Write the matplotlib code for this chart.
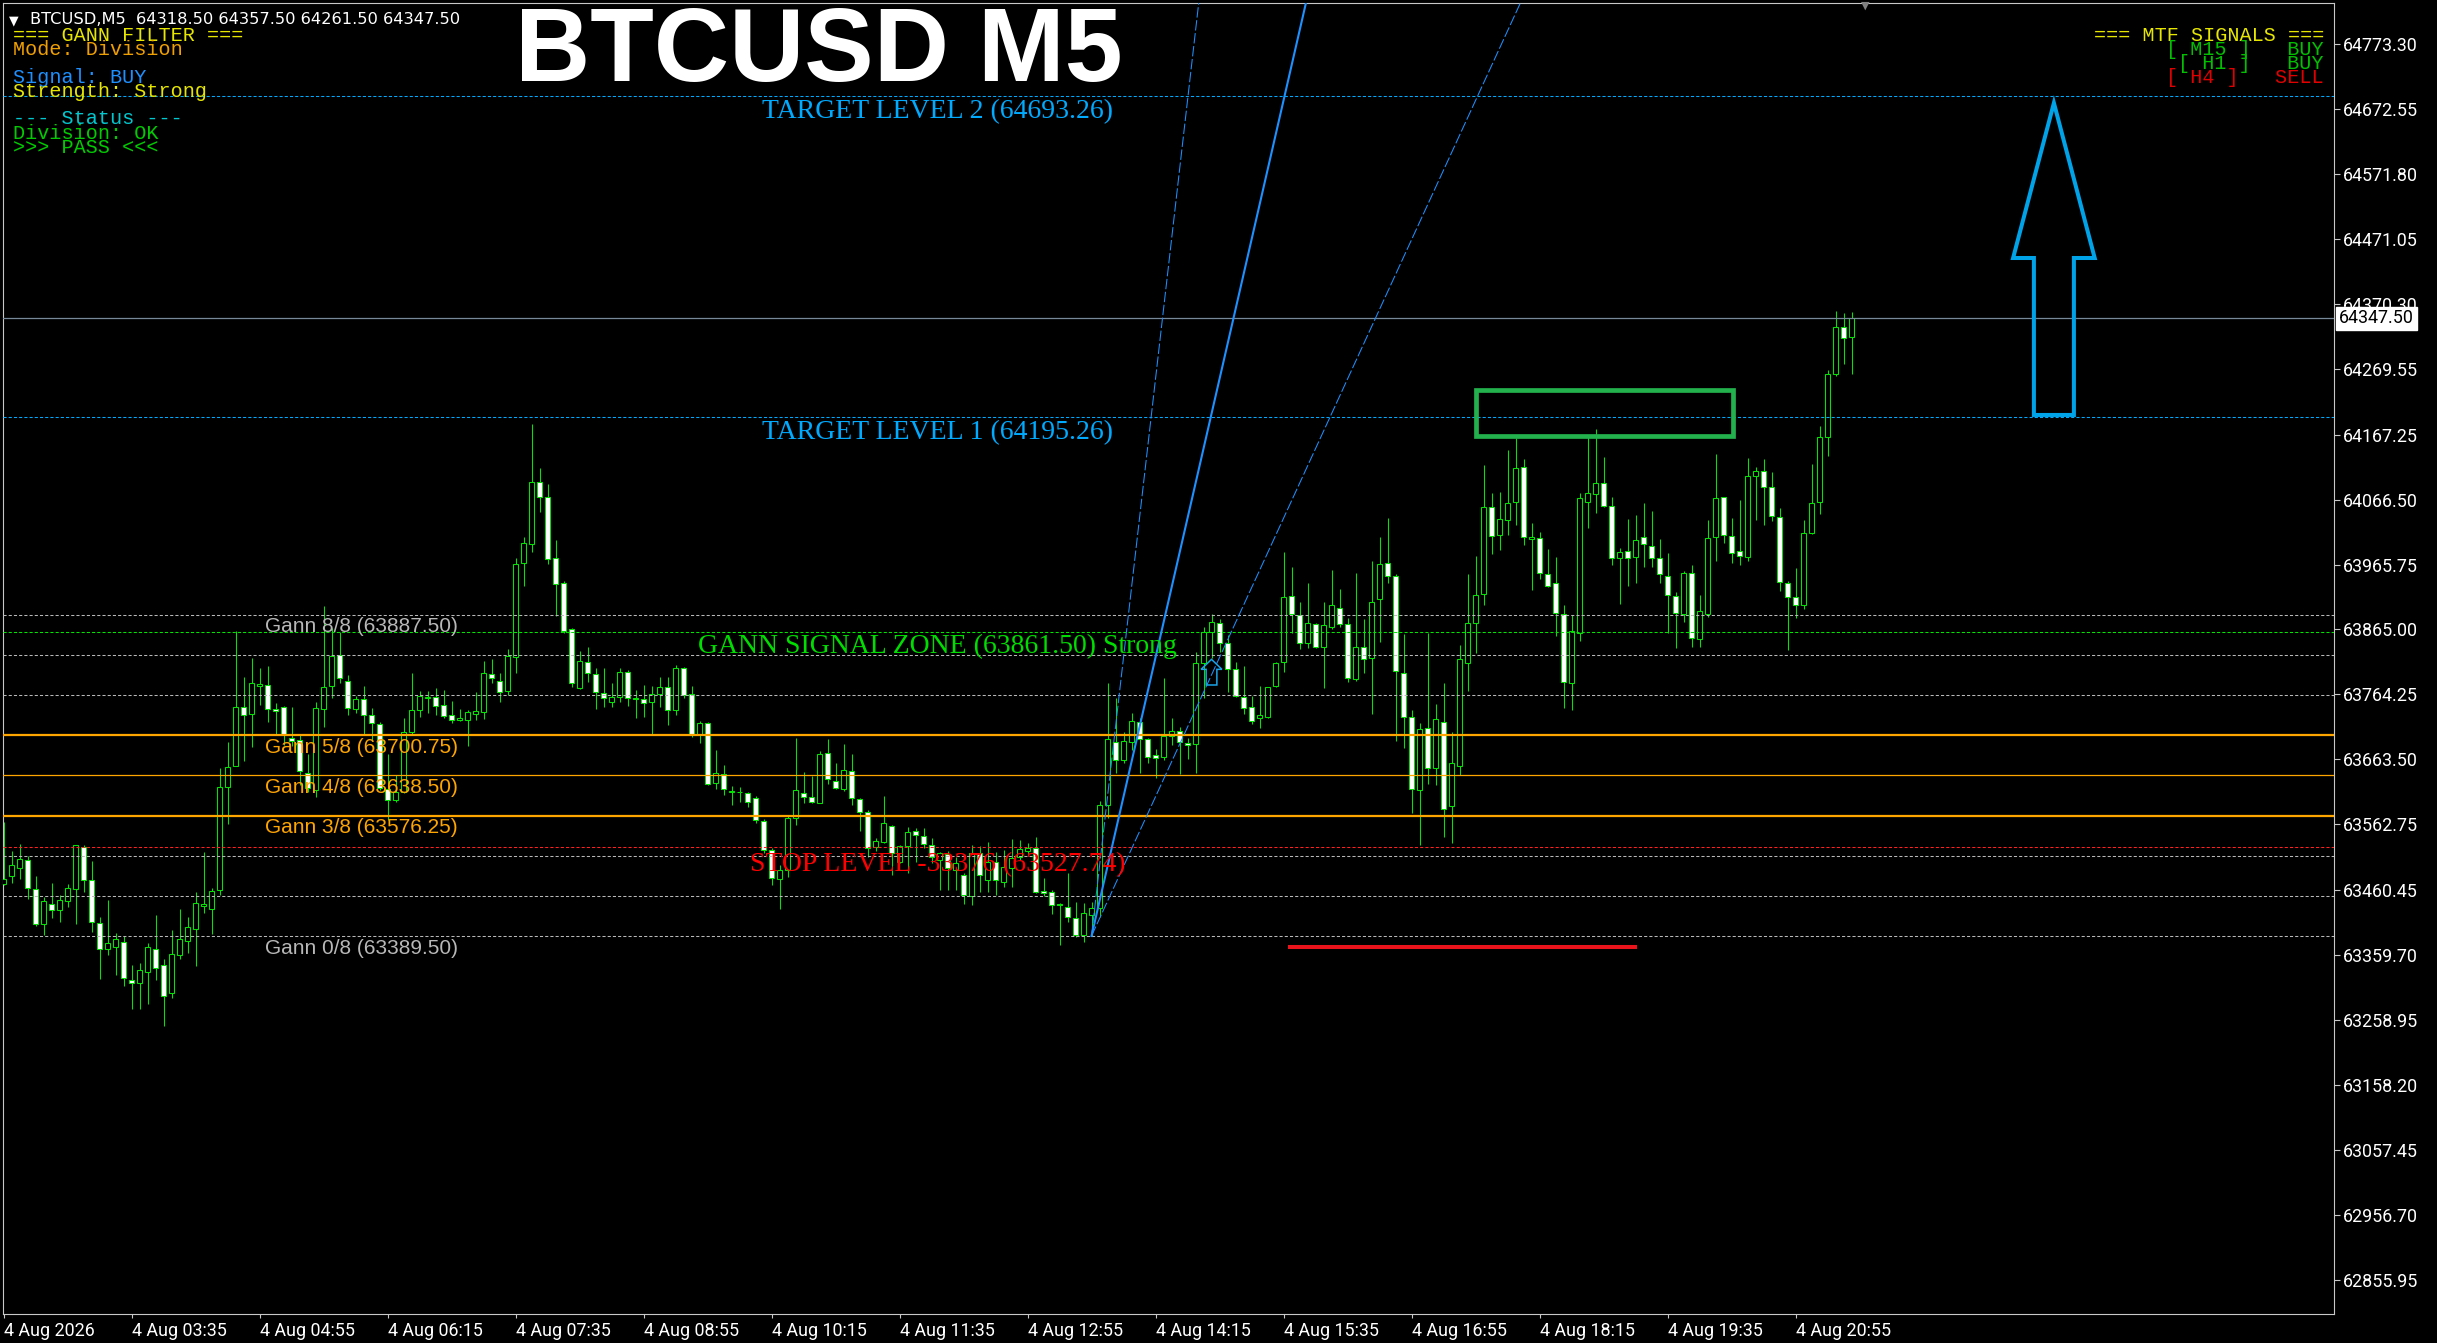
import matplotlib
matplotlib.use("Agg")
import matplotlib.pyplot as plt
from matplotlib.patches import Polygon, Rectangle
import numpy as np

W, H = 2437, 1343

# ---- candle data (5 minute bars) ----
opens = [63470.4, 63482.9, 63495.3, 63507.8, 63463.0, 63408.2, 63439.3, 63430.0, 63444.3, 63463.0,
         63527.7, 63476.6, 63409.4, 63369.6, 63372.7, 63380.2, 63321.6, 63316.7, 63334.1, 63369.6,
         63344.7, 63301.1, 63360.2, 63382.0, 63400.7, 63436.8, 63431.8, 63461.1, 63620.4, 63652.8,
         63744.3, 63733.7, 63776.7, 63778.6, 63741.2, 63744.3, 63696.4, 63693.3, 63642.2, 63615.5,
         63741.8, 63777.3, 63825.3, 63785.4, 63741.8, 63756.8, 63733.1, 63718.2, 63617.3, 63601.2,
         63613.6, 63705.7, 63740.0, 63759.3, 63760.5, 63747.4, 63731.9, 63724.4, 63724.4, 63733.7,
         63737.5, 63796.0, 63785.6, 63770.1, 63821.8, 63967.6, 63997.1, 64094.3, 64070.0, 63975.4,
         63936.6, 63865.3, 63773.7, 63814.1, 63795.5, 63767.0, 63753.0, 63759.8, 63799.6, 63756.7,
         63756.7, 63752.0, 63764.4, 63775.3, 63740.1, 63805.8, 63764.9, 63702.9, 63720.5, 63626.4,
         63640.8, 63612.9, 63612.4, 63610.8, 63603.1, 63568.4, 63523.0, 63477.4, 63491.9, 63572.1,
         63611.9, 63604.6, 63596.4, 63672.9, 63630.0, 63617.0, 63646.0, 63601.5, 63582.4, 63527.1,
         63535.9, 63560.2, 63504.8, 63529.1, 63552.9, 63544.7, 63530.7, 63507.4, 63516.7, 63491.9,
         63484.1, 63451.6, 63517.8, 63476.4, 63504.9, 63473.8, 63494.5, 63511.6, 63521.9, 63525.5,
         63459.3, 63458.3, 63438.6, 63435.0, 63416.9, 63391.0, 63422.1, 63432.4, 63592.7, 63691.0,
         63662.6, 63691.0, 63722.0, 63694.6, 63670.3, 63666.7, 63699.8, 63708.1, 63689.5, 63687.4,
         63812.5, 63861.7, 63875.6, 63844.6, 63803.2, 63759.8, 63744.3, 63727.2, 63728.8, 63777.9,
         63814.1, 63917.0, 63887.5, 63844.6, 63873.5, 63838.4, 63868.4, 63897.8, 63873.0, 63787.7,
         63838.4, 63820.3, 63911.8, 63967.7, 63948.5, 63798.0, 63729.8, 63616.0, 63711.7, 63649.6,
         63722.0, 63591.2, 63653.3, 63812.5, 63874.6, 63920.1, 64055.6, 64011.6, 64034.9, 64063.3,
         64117.6, 64005.9, 64006.5, 63950.6, 63936.6, 63889.1, 63782.6, 63859.1, 64063.3, 64074.7,
         64091.8, 64057.1, 63975.4, 63987.3, 63977.0, 64008.0, 63995.1, 63976.5, 63948.5, 63917.5,
         63889.1, 63952.2, 63849.8, 63889.1, 64008.0, 64070.1, 64010.6, 63987.3, 63978.0, 64103.7,
         64111.4, 64086.6, 64040.1, 63936.6, 63915.9, 63903.0, 64014.2, 64062.3, 64163.1, 64260.9,
         64333.8, 64318.5]
highs = [63565.7, 63522.1, 63532.7, 63514.0, 63482.9, 63450.5, 63472.3, 63453.6, 63470.4, 63531.4,
         63531.4, 63506.5, 63419.4, 63445.5, 63394.5, 63389.5, 63344.7, 63347.8, 63378.9, 63422.5,
         63354.0, 63399.5, 63431.8, 63419.4, 63458.0, 63520.2, 63464.2, 63649.7, 63690.2, 63862.6,
         63791.6, 63820.9, 63805.3, 63808.4, 63750.6, 63746.2, 63744.3, 63702.6, 63671.5, 63752.4,
         63901.8, 63867.6, 63861.4, 63794.1, 63761.8, 63777.3, 63743.1, 63721.3, 63671.5, 63638.5,
         63727.5, 63797.9, 63769.2, 63769.2, 63774.2, 63771.1, 63754.3, 63741.8, 63740.0, 63768.0,
         63816.7, 63818.7, 63797.0, 63834.2, 63975.4, 64008.0, 64183.8, 64115.0, 64090.7, 64003.8,
         63940.2, 63866.8, 63832.2, 63837.3, 63804.8, 63804.8, 63781.5, 63804.8, 63802.2, 63771.1,
         63778.9, 63777.4, 63790.8, 63790.8, 63809.9, 63807.3, 63777.4, 63723.1, 63722.0, 63678.1,
         63654.8, 63622.2, 63620.2, 63612.4, 63606.7, 63570.5, 63525.5, 63499.7, 63577.2, 63696.2,
         63644.5, 63637.7, 63677.0, 63694.6, 63657.4, 63687.4, 63671.9, 63603.1, 63585.0, 63541.0,
         63606.7, 63561.7, 63530.7, 63558.1, 63556.6, 63556.6, 63541.0, 63520.4, 63522.0, 63512.6,
         63486.7, 63530.7, 63529.1, 63535.9, 63520.4, 63523.0, 63539.5, 63538.5, 63533.3, 63542.6,
         63479.0, 63460.9, 63440.2, 63486.8, 63442.8, 63440.2, 63442.8, 63599.5, 63782.6, 63758.3,
         63706.5, 63735.0, 63727.2, 63696.2, 63679.1, 63789.3, 63727.2, 63713.3, 63696.2, 63830.6,
         63869.4, 63889.1, 63880.8, 63856.5, 63815.1, 63808.4, 63761.9, 63777.4, 63776.3, 63815.1,
         63984.7, 63962.5, 63908.2, 63936.6, 63875.6, 63908.2, 63957.3, 63927.3, 63882.3, 63952.1,
         63880.8, 63971.3, 64008.0, 64037.5, 63951.1, 63858.0, 63740.1, 63720.5, 63860.1, 63749.4,
         63782.6, 63706.5, 63841.0, 63951.1, 63979.0, 64120.2, 64076.2, 64078.8, 64143.5, 64162.6,
         64129.0, 64029.7, 64015.8, 63989.4, 63977.0, 63903.0, 63887.5, 64076.3, 64164.2, 64175.6,
         64132.1, 64071.1, 63990.9, 64035.9, 64042.7, 64060.8, 64048.9, 64004.9, 63983.2, 63923.7,
         63955.8, 63965.1, 63918.6, 64034.9, 64137.3, 64071.1, 64037.5, 64065.9, 64130.6, 64116.6,
         64129.0, 64109.9, 64053.0, 63940.3, 63959.9, 64034.9, 64121.8, 64180.7, 64267.6, 64359.6,
         64356.5, 64357.5]
lows = [63469.2, 63472.3, 63478.5, 63447.4, 63405.7, 63391.4, 63418.1, 63411.9, 63434.3, 63408.2,
        63458.0, 63395.7, 63322.9, 63360.2, 63329.1, 63312.3, 63276.2, 63276.2, 63283.7, 63321.0,
        63250.1, 63293.6, 63354.0, 63363.4, 63343.4, 63425.6, 63393.2, 63453.6, 63563.8, 63652.8,
        63660.3, 63682.1, 63748.1, 63721.3, 63700.7, 63685.8, 63683.9, 63623.6, 63613.6, 63604.9,
        63713.2, 63758.6, 63781.7, 63731.9, 63735.6, 63702.6, 63692.0, 63615.5, 63568.8, 63596.8,
        63611.1, 63700.7, 63729.4, 63735.6, 63731.9, 63727.5, 63719.4, 63723.2, 63683.9, 63724.4,
        63726.2, 63781.5, 63753.0, 63762.9, 63798.0, 63933.0, 63985.7, 64047.8, 63966.6, 63885.9,
        63859.0, 63776.3, 63772.2, 63784.1, 63741.7, 63744.3, 63744.3, 63753.0, 63746.8, 63727.2,
        63729.8, 63702.9, 63745.3, 63716.9, 63732.4, 63758.2, 63697.7, 63688.4, 63623.8, 63617.0,
        63608.3, 63592.7, 63597.9, 63589.1, 63565.3, 63517.8, 63468.6, 63430.9, 63481.6, 63561.7,
        63596.4, 63596.4, 63595.3, 63625.3, 63617.0, 63615.0, 63592.7, 63552.9, 63512.6, 63521.9,
        63533.3, 63484.1, 63502.3, 63486.7, 63504.8, 63525.5, 63502.3, 63460.9, 63460.9, 63460.9,
        63439.2, 63437.6, 63458.3, 63458.3, 63453.2, 63466.1, 63466.1, 63507.4, 63516.7, 63455.7,
        63451.6, 63423.7, 63375.6, 63411.8, 63388.5, 63380.8, 63389.5, 63419.5, 63572.1, 63641.9,
        63657.4, 63678.1, 63642.9, 63657.4, 63634.1, 63662.6, 63685.8, 63640.9, 63663.6, 63641.9,
        63758.3, 63820.3, 63830.6, 63768.6, 63760.8, 63733.9, 63718.4, 63711.7, 63727.2, 63775.3,
        63799.6, 63860.1, 63834.2, 63835.8, 63835.8, 63773.7, 63865.3, 63868.4, 63784.1, 63785.6,
        63798.0, 63733.9, 63846.1, 63937.7, 63692.6, 63680.7, 63579.8, 63530.7, 63625.3, 63623.8,
        63542.6, 63534.3, 63639.3, 63770.1, 63828.0, 63903.0, 63982.1, 63988.3, 64011.6, 64027.1,
        63996.1, 63926.3, 63943.4, 63931.5, 63854.9, 63743.8, 63740.1, 63847.7, 64023.0, 64046.3,
        64054.5, 63965.1, 63904.6, 63932.5, 63937.7, 63962.5, 63962.5, 63937.7, 63860.1, 63836.9,
        63877.2, 63838.4, 63838.4, 63883.9, 63971.8, 63999.7, 63968.7, 63965.1, 63971.8, 64034.9,
        64027.1, 64033.9, 63925.3, 63833.2, 63882.4, 63896.3, 64013.2, 64044.2, 64134.7, 64258.3,
        64276.9, 64261.5]
closes = [63478.5, 63500.3, 63509.6, 63464.2, 63408.2, 63444.3, 63430.0, 63445.5, 63464.2, 63530.2,
          63476.6, 63411.9, 63369.6, 63378.9, 63385.1, 63324.8, 63317.3, 63337.2, 63372.7, 63339.7,
          63296.7, 63362.1, 63385.1, 63403.8, 63441.2, 63439.3, 63459.8, 63620.4, 63651.6, 63744.3,
          63731.9, 63781.7, 63780.4, 63741.8, 63739.3, 63700.7, 63692.0, 63645.3, 63618.6, 63743.1,
          63775.5, 63824.0, 63789.8, 63743.1, 63756.8, 63731.9, 63719.4, 63618.6, 63601.2, 63613.6,
          63705.7, 63740.0, 63761.8, 63760.5, 63746.2, 63730.6, 63724.4, 63727.5, 63736.9, 63738.1,
          63798.0, 63789.3, 63768.6, 63824.4, 63966.1, 63999.7, 64093.3, 64070.0, 63973.9, 63935.6,
          63863.2, 63781.5, 63816.1, 63797.0, 63767.5, 63759.3, 63759.8, 63798.5, 63758.2, 63758.2,
          63750.5, 63764.4, 63775.3, 63740.1, 63804.8, 63763.4, 63702.9, 63719.4, 63625.3, 63642.9,
          63617.6, 63614.5, 63613.4, 63597.9, 63569.5, 63523.0, 63479.0, 63491.9, 63572.1, 63616.0,
          63604.6, 63597.9, 63671.9, 63632.6, 63618.6, 63647.0, 63603.1, 63582.4, 63525.5, 63537.4,
          63564.3, 63517.8, 63529.1, 63551.4, 63546.2, 63532.2, 63512.6, 63517.8, 63494.5, 63502.3,
          63453.1, 63517.8, 63484.1, 63504.8, 63476.4, 63496.1, 63510.0, 63524.0, 63525.5, 63458.3,
          63456.7, 63437.6, 63437.1, 63419.5, 63391.0, 63424.7, 63432.4, 63592.7, 63694.6, 63662.6,
          63692.6, 63723.6, 63694.6, 63667.7, 63665.2, 63699.8, 63708.1, 63691.0, 63685.8, 63812.5,
          63861.7, 63877.2, 63843.5, 63803.2, 63761.9, 63742.7, 63723.6, 63732.4, 63775.3, 63812.5,
          63914.9, 63889.1, 63843.5, 63874.6, 63838.4, 63872.0, 63903.0, 63873.5, 63789.3, 63838.4,
          63818.7, 63908.2, 63966.1, 63948.0, 63801.1, 63729.8, 63617.1, 63710.1, 63649.6, 63725.6,
          63586.0, 63657.4, 63818.7, 63874.6, 63918.5, 64054.5, 64010.1, 64035.9, 64061.8, 64115.0,
          64008.0, 64008.0, 63952.2, 63933.0, 63890.1, 63784.1, 63863.2, 64068.5, 64076.3, 64091.8,
          64057.1, 63975.4, 63984.7, 63975.4, 64003.9, 63997.7, 63975.4, 63950.6, 63918.6, 63890.1,
          63953.2, 63851.3, 63894.2, 64006.5, 64068.5, 64011.6, 63984.2, 63979.6, 64103.7, 64111.4,
          64085.6, 64041.6, 63938.2, 63914.9, 63903.0, 64015.3, 64060.8, 64163.1, 64260.9, 64333.8,
          64316.7, 64347.5]

# x axis labels every 16 bars
time_labels = ["4 Aug 2026", "4 Aug 03:35", "4 Aug 04:55", "4 Aug 06:15", "4 Aug 07:35",
               "4 Aug 08:55", "4 Aug 10:15", "4 Aug 11:35", "4 Aug 12:55", "4 Aug 14:15",
               "4 Aug 15:35", "4 Aug 16:55", "4 Aug 18:15", "4 Aug 19:35", "4 Aug 20:55"]

# price scale labels on the right
price_ticks = [64773.30, 64672.55, 64571.80, 64471.05, 64370.30, 64269.55, 64167.25, 64066.50,
               63965.75, 63865.00, 63764.25, 63663.50, 63562.75, 63460.45, 63359.70, 63258.95,
               63158.20, 63057.45, 62956.70, 62855.95]

# gann octave levels
gann_names = ["8/8", "7/8", "6/8", "5/8", "4/8", "3/8", "2/8", "1/8", "0/8"]
gann_levels = [63887.50, 63825.25, 63763.00, 63700.75, 63638.50, 63576.25, 63514.00, 63451.75, 63389.50]
gann_labeled = ["8/8", "5/8", "4/8", "3/8", "0/8"]

target1 = 64195.26
target2 = 64693.26
signal_zone = 63861.50
stop_level = 63527.74
last_price = 64347.50

# gann fan: anchor bar, anchor price, 1x1 slope (price per bar)
fan_bar, fan_price, fan_slope = 136, 63389.50, 54.0

GREEN = "#00e600"
ORANGE = "#ffa500"
SILVER = "#b8b8b8"
CYAN = "#00aaff"

fig = plt.figure(figsize=(W / 100, H / 100), dpi=100, facecolor="black")
ax = fig.add_axes([3 / W, (H - 1314) / H, (2334 - 3) / W, (1314 - 3) / H])
ax.set_facecolor("black")

n = len(opens)
x = np.arange(n)
o = np.array(opens)
c = np.array(closes)

# wicks first, bodies on top (hollow bull = black body, bear = white body)
ax.vlines(x, lows, highs, color=GREEN, linewidth=0.75, zorder=2)
body_low = np.minimum(o, c)
body_h = np.abs(c - o)
face = ["black" if cc >= oo else "white" for oo, cc in zip(o, c)]
ax.bar(x, body_h, bottom=body_low, width=0.52, color=face, edgecolor=GREEN,
       linewidth=0.75, zorder=3)

x_lo = (3 - 3.5) / 8
x_hi = (2334 - 3.5) / 8
ax.set_xlim(x_lo, x_hi)
ax.set_ylim(62803.1, 64836.9)

# horizontal levels
dot = dict(dashes=(3, 2), linewidth=0.75, zorder=4)
for name, lv in zip(gann_names, gann_levels):
    if name in ("5/8", "3/8"):
        ax.axhline(lv, color=ORANGE, linewidth=1.6, zorder=4)
    elif name == "4/8":
        ax.axhline(lv, color=ORANGE, linewidth=0.9, zorder=4)
    else:
        ax.axhline(lv, color=SILVER, **dot)
ax.axhline(signal_zone, color=GREEN, **dot)
ax.axhline(stop_level, color="#ff2020", **dot)
ax.axhline(target1, color=CYAN, **dot)
ax.axhline(target2, color=CYAN, **dot)
ax.axhline(last_price, color="#778899", linewidth=0.9, zorder=4)

# gann labels
for name, lv in zip(gann_names, gann_levels):
    if name not in gann_labeled:
        continue
    col = ORANGE if name in ("5/8", "4/8", "3/8") else SILVER
    ax.annotate("Gann %s (%.2f)" % (name, lv), xy=(32.7, lv), xytext=(0, -12),
                textcoords="offset pixels", ha="left", va="center", color=col,
                fontsize=15, family="Liberation Sans", zorder=6)

# level captions in serif
serif = dict(textcoords="offset pixels", ha="center", va="center",
             fontsize=20, family="Liberation Serif", zorder=6)
ax.annotate("TARGET LEVEL 2 (%.2f)" % target2, xy=(116.8, target2), xytext=(0, -16),
            color=CYAN, **serif)
ax.annotate("TARGET LEVEL 1 (%.2f)" % target1, xy=(116.8, target1), xytext=(0, -16),
            color=CYAN, **serif)
ax.annotate("GANN SIGNAL ZONE (%.2f) Strong" % signal_zone, xy=(116.8, signal_zone),
            xytext=(0, -15), color="#00dd00", **serif)
ax.annotate("STOP LEVEL -33376 (%.2f)" % stop_level, xy=(116.8, stop_level),
            xytext=(0, -18), color="#ff0000", **serif)

# gann fan from the low
fx = np.array([fan_bar, 320])
for k, ls in ((2.0, "dash"), (1.0, "solid"), (0.5, "dash")):
    fy = fan_price + fan_slope * k * (fx - fan_bar)
    if ls == "solid":
        ax.plot(fx, fy, color="#1e90ff", linewidth=1.5, zorder=5)
    else:
        ax.plot(fx, fy, color="#1e90ff", linewidth=0.75, dashes=(10, 2.5), zorder=5)

# small buy arrow
ax.add_patch(Polygon([(151, 63818.7), (152.3, 63803.2), (151.67, 63803.2), (151.67, 63778.9),
                      (150.33, 63778.9), (150.33, 63803.2), (149.7, 63803.2)],
                     closed=True, fill=False, edgecolor="#1aa3e8", linewidth=1.1, zorder=6))

# big target arrow
ax.add_patch(Polygon([(256.3, 64681.8), (261.4, 64441.3), (258.8, 64441.3), (258.8, 64197.8),
                      (253.8, 64197.8), (253.8, 64441.3), (251.2, 64441.3)],
                     closed=True, fill=False, edgecolor="#00a2e8", linewidth=2.9,
                     joinstyle="miter", zorder=6))

# resistance box and support bar
ax.add_patch(Rectangle((184.1, 64165.5), 32.1, 70.7, fill=False, edgecolor="#22b14c",
                       linewidth=3.4, zorder=6))
ax.plot([160.8, 203.9], [63373.0, 63373.0], color="#e8131b", linewidth=2.9, zorder=6)

# axes styling
for s in ax.spines.values():
    s.set_color("#c8c8c8")
    s.set_linewidth(0.8)

ax.yaxis.tick_right()
ax.set_yticks(price_ticks)
ax.set_yticklabels(["%.2f" % p for p in price_ticks])
ax.tick_params(axis="y", colors="#c8c8c8", labelcolor="white", length=4, width=0.8,
               pad=2.5, labelsize=12.9)
ax.set_xticks([16 * i for i in range(len(time_labels))])
ax.set_xticklabels(time_labels, ha="left")
ax.tick_params(axis="x", colors="#c8c8c8", labelcolor="white", length=3, width=0.8,
               pad=3, labelsize=12.9)
for lab in ax.get_xticklabels() + ax.get_yticklabels():
    lab.set_family("Roboto")

# current price box
ax.annotate("%.2f" % last_price, xy=(1.0, last_price), xycoords=("axes fraction", "data"),
            xytext=(5, 0), textcoords="offset pixels", ha="left", va="center",
            fontsize=12.9, family="Roboto", color="black", zorder=10, annotation_clip=False,
            bbox=dict(boxstyle="square,pad=0.15", fc="white", ec="white"))


def px(xp, yp):
    return xp / W, 1 - yp / H


# header line
fig.text(*px(9, 24), "▼", color="white", fontsize=9, family="DejaVu Sans", va="baseline")
fig.text(*px(30, 24), "BTCUSD,M5  64318.50 64357.50 64261.50 64347.50", color="white",
         fontsize=11.7, family="DejaVu Sans", va="baseline")

# big title
fig.text(*px(819, 81), "BTCUSD M5", color="white", fontsize=75, fontweight="bold",
         family="Liberation Sans", ha="center", va="baseline")

# left info panel
mono = dict(fontsize=14.5, family="Liberation Mono", va="baseline")
panel = [("=== GANN FILTER ===", "#e6e600", 40.7),
         ("Mode: Division", "#f0a000", 55),
         ("Signal: BUY", "#1e90ff", 82.7),
         ("Strength: Strong", "#e6e600", 96.7),
         ("--- Status ---", "#00c8d0", 124),
         ("Division: OK", "#00cc00", 139),
         (">>> PASS <<<", "#00cc00", 152.7)]
for txt, col, yb in panel:
    fig.text(*px(13, yb), txt, color=col, **mono)

# right MTF panel
mtf = [("=== MTF SIGNALS ===", "#e6e600", 40.7),
       ("[ M15 ]   BUY", "#00c000", 55),
       ("[ H1 ]   BUY", "#00c000", 69.3),
       ("[ H4 ]   SELL", "#e00000", 83.3)]
for txt, col, yb in mtf:
    fig.text(*px(2324, yb), txt, color=col, ha="right", **mono)

# chart shift marker
fig.text(*px(1865, 6), "▼", color="#808080", fontsize=8, ha="center", va="center")

fig.savefig("out.png", dpi=100, facecolor="black")
